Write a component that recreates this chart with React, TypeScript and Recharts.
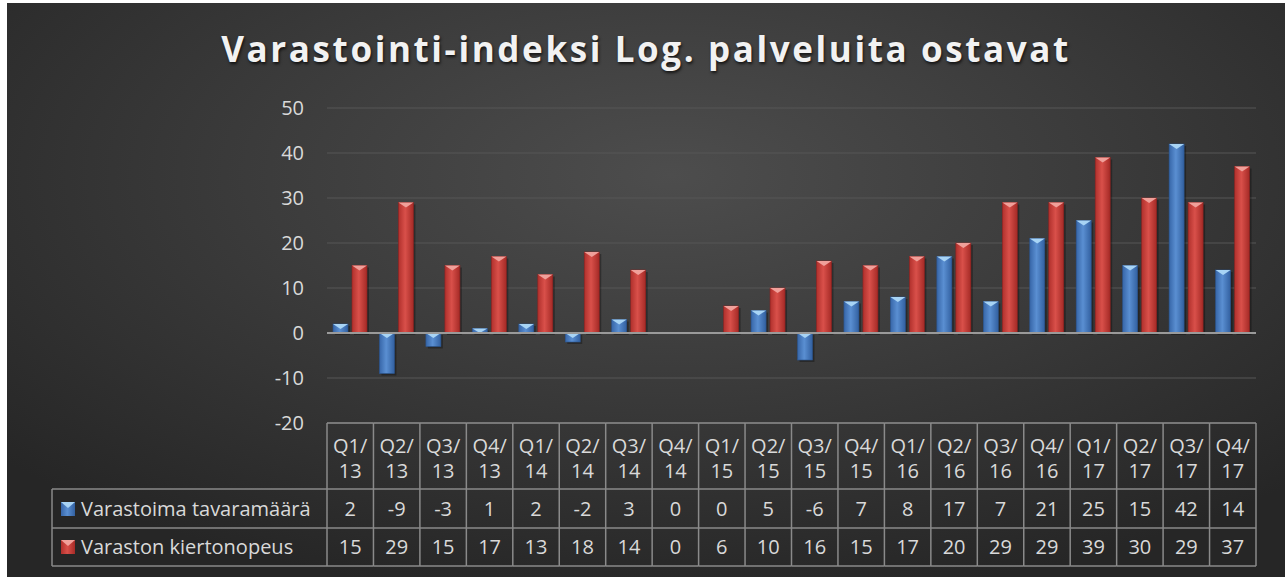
import { BarChart, Bar, XAxis, YAxis, CartesianGrid, ReferenceLine } from 'recharts'

const categories = ['Q1/13', 'Q2/13', 'Q3/13', 'Q4/13', 'Q1/14', 'Q2/14', 'Q3/14', 'Q4/14', 'Q1/15', 'Q2/15', 'Q3/15', 'Q4/15', 'Q1/16', 'Q2/16', 'Q3/16', 'Q4/16', 'Q1/17', 'Q2/17', 'Q3/17', 'Q4/17']
const varastoima = [2, -9, -3, 1, 2, -2, 3, 0, 0, 5, -6, 7, 8, 17, 7, 21, 25, 15, 42, 14]
const kierto = [15, 29, 15, 17, 13, 18, 14, 0, 6, 10, 16, 15, 17, 20, 29, 29, 39, 30, 29, 37]
const yTicks = [-20, -10, 0, 10, 20, 30, 40, 50]

const seriesNames = ['Varastoima tavaramäärä', 'Varaston kiertonopeus']

const data = categories.map((c, i) => ({ name: c, a: varastoima[i], b: kierto[i] }))

const W = 1278
const H = 574
const PLOT_L = 320
const PLOT_R = 1249
const TABLE_TOP = 420
const ROW1 = 486
const ROW2 = 525
const TABLE_BOT = 563
const LEGEND_L = 45
const BW = (PLOT_R - PLOT_L) / categories.length
const FONT = '"Open Sans", sans-serif'
const TXT = '#d9d9d9'
const LINE = '#8a8a8a'
const FS = 20

const makeShape = (grad: string, tip: string, edge: string) => (props: any) => {
  const { x, y, width, height } = props
  const top = Math.min(y, y + height)
  const h = Math.abs(height)
  if (!h || h < 0.5) return <g />
  const th = Math.min(5, h)
  return (
    <g>
      <rect x={x + 2} y={top + 2} width={width} height={h} fill="rgba(0,0,0,0.3)" />
      <rect x={x} y={top} width={width} height={h} fill={`url(#${grad})`} stroke={edge} strokeWidth={0.6} />
      <polygon points={`${x},${top} ${x + width},${top} ${x + width / 2},${top + th}`} fill={tip} />
    </g>
  )
}

const LegendIcon = ({ x, y, grad, tip }: { x: number; y: number; grad: string; tip: string }) => (
  <g>
    <rect x={x} y={y} width={14} height={14} fill={`url(#${grad})`} />
    <polygon points={`${x},${y} ${x + 14},${y} ${x + 7},${y + 6}`} fill={tip} />
  </g>
)

const TableTick = (props: any) => {
  const { x, payload } = props
  const i = payload.index
  const x0 = x - BW / 2
  const x1 = x + BW / 2
  const [q, yr] = String(payload.value).split('/')
  const ts = { fill: TXT, fontSize: FS, fontFamily: FONT, textAnchor: 'middle' as const, dominantBaseline: 'central' as const }
  const ls = { fill: TXT, fontSize: FS, fontFamily: FONT, dominantBaseline: 'central' as const }
  return (
    <g>
      {[TABLE_TOP, ROW1, ROW2, TABLE_BOT].map((yy) => (
        <line key={yy} x1={x0} x2={x1} y1={yy} y2={yy} stroke={LINE} strokeWidth={1.5} />
      ))}
      <line x1={x0} x2={x0} y1={TABLE_TOP} y2={TABLE_BOT} stroke={LINE} strokeWidth={1.5} />
      {i === categories.length - 1 && <line x1={x1} x2={x1} y1={TABLE_TOP} y2={TABLE_BOT} stroke={LINE} strokeWidth={1.5} />}
      <text x={x} y={442} {...ts}>{q + '/'}</text>
      <text x={x} y={467.5} {...ts}>{yr}</text>
      <text x={x} y={505} {...ts}>{varastoima[i]}</text>
      <text x={x} y={543} {...ts}>{kierto[i]}</text>
      {i === 0 && (
        <g>
          {[ROW1, ROW2, TABLE_BOT].map((yy) => (
            <line key={yy} x1={LEGEND_L} x2={x0} y1={yy} y2={yy} stroke={LINE} strokeWidth={1.5} />
          ))}
          <line x1={LEGEND_L} x2={LEGEND_L} y1={ROW1} y2={TABLE_BOT} stroke={LINE} strokeWidth={1.5} />
          <LegendIcon x={54} y={499} grad="gBlue" tip="#a8d4f5" />
          <LegendIcon x={54} y={537} grad="gRed" tip="#f0a09a" />
          <text x={74} y={505} {...ls}>{seriesNames[0]}</text>
          <text x={74} y={543} {...ls}>{seriesNames[1]}</text>
        </g>
      )}
    </g>
  )
}

export default function App() {
  return (
    <div
      style={{
        position: 'absolute',
        left: 7,
        top: 3,
        width: W,
        height: H,
        background: 'radial-gradient(ellipse 70% 75% at 52% 30%, #4d4d4d 0%, #3c3c3c 45%, #262626 100%)',
        overflow: 'hidden',
      }}
    >
      <svg width={0} height={0} style={{ position: 'absolute' }}>
        <defs>
          <linearGradient id="gBlue" x1="0" x2="1" y1="0" y2="0">
            <stop offset="0%" stopColor="#3766a8" />
            <stop offset="45%" stopColor="#5a8fd2" />
            <stop offset="100%" stopColor="#3260a0" />
          </linearGradient>
          <linearGradient id="gRed" x1="0" x2="1" y1="0" y2="0">
            <stop offset="0%" stopColor="#b0302c" />
            <stop offset="45%" stopColor="#d9504a" />
            <stop offset="100%" stopColor="#a52a26" />
          </linearGradient>
        </defs>
      </svg>
      <div
        style={{
          position: 'absolute',
          left: 0,
          width: W,
          top: 25,
          textAlign: 'center',
          fontFamily: FONT,
          fontWeight: 700,
          fontSize: 35,
          letterSpacing: 2.6,
          color: '#f2f2f2',
          textShadow: '1px 2px 3px rgba(0,0,0,0.7)',
          lineHeight: '42px',
        }}
      >
        Varastointi-indeksi Log. palveluita ostavat
      </div>
      <BarChart
        width={W}
        height={H}
        data={data}
        margin={{ top: 105, right: W - PLOT_R, bottom: H - TABLE_TOP - 143, left: PLOT_L - 60 }}
        barCategoryGap={6}
        barGap={4}
        style={{ position: 'absolute', left: 0, top: 0 }}
      >
        <CartesianGrid vertical={false} stroke="#575757" strokeWidth={1.2} />
        <YAxis
          width={60}
          domain={[-20, 50]}
          ticks={yTicks}
          axisLine={false}
          tickLine={false}
          tickSize={0}
          tickMargin={23}
          tick={{ fill: TXT, fontSize: FS, fontFamily: FONT }}
        />
        <XAxis dataKey="name" height={143} interval={0} axisLine={false} tickLine={false} tickSize={0} tickMargin={0} tick={<TableTick />} />
        <ReferenceLine y={0} stroke="#9a9a9a" strokeWidth={2} />
        <Bar dataKey="a" name={seriesNames[0]} barSize={15} isAnimationActive={false} shape={makeShape('gBlue', '#a8d4f5', '#2a5590')} />
        <Bar dataKey="b" name={seriesNames[1]} barSize={15} isAnimationActive={false} shape={makeShape('gRed', '#f0a09a', '#8f2220')} />
      </BarChart>
    </div>
  )
}
